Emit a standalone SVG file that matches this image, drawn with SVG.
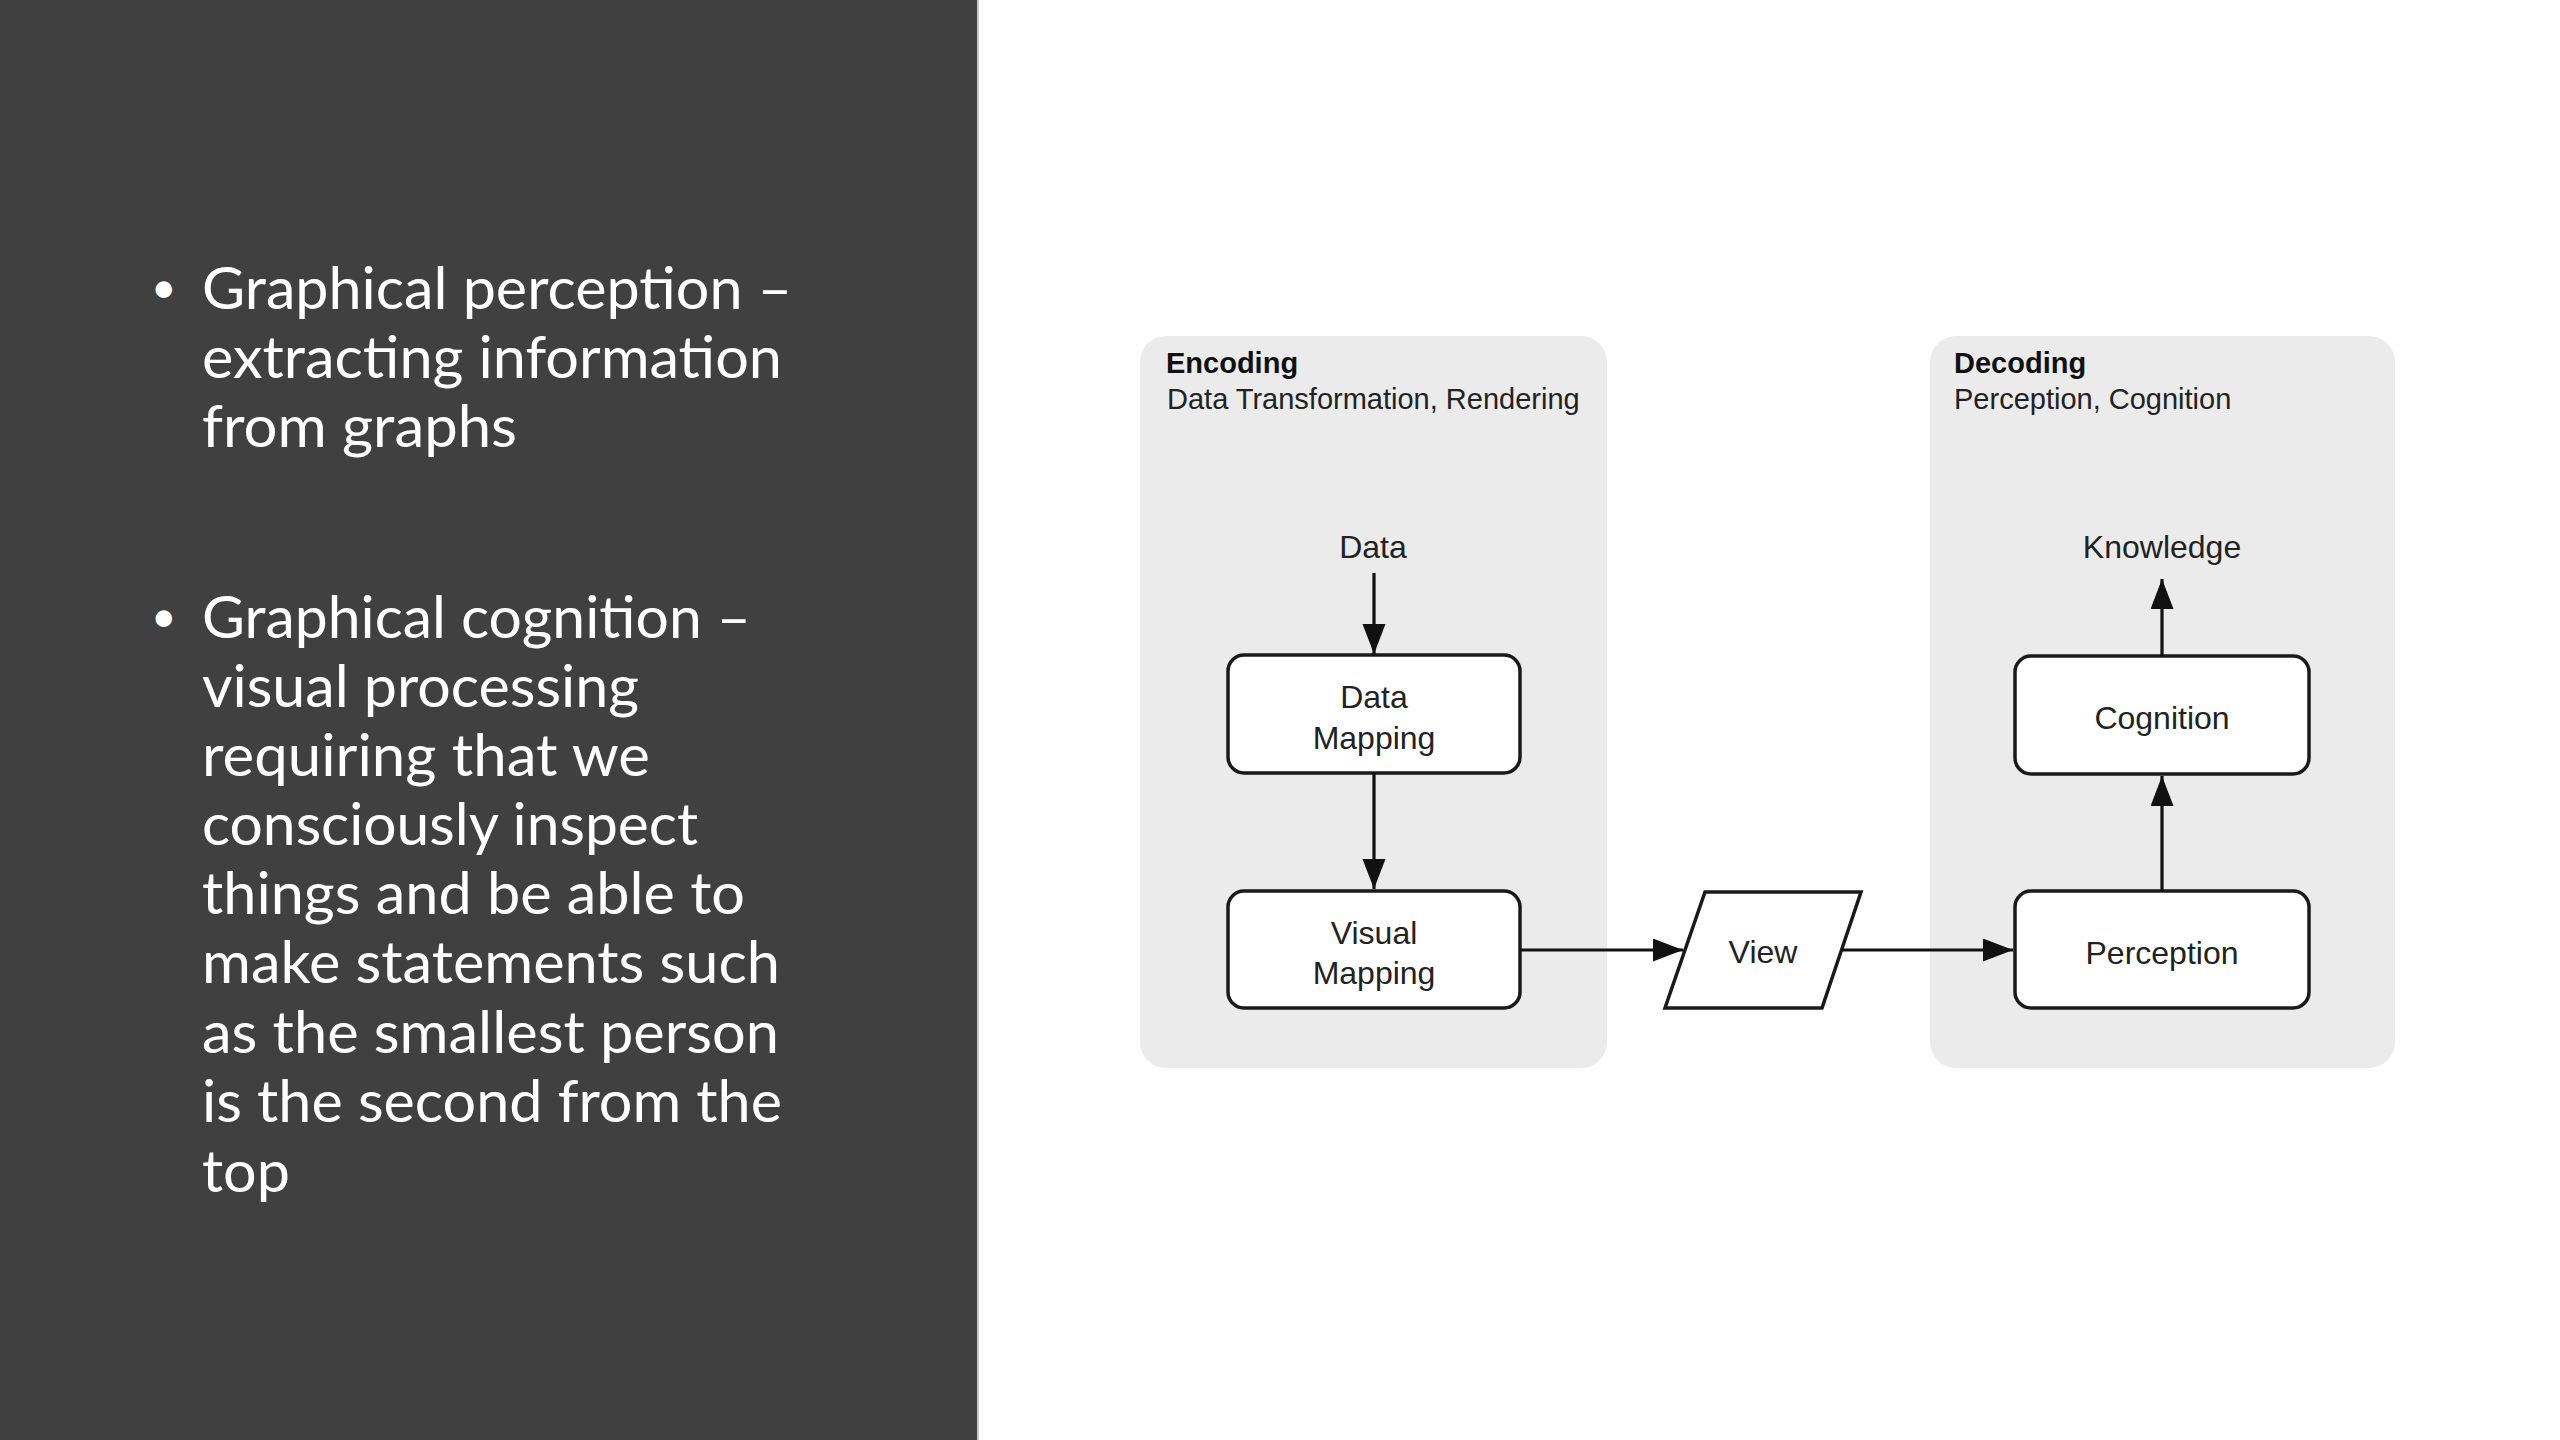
<svg xmlns="http://www.w3.org/2000/svg" width="2560" height="1440" viewBox="0 0 2560 1440">
  <defs>
    <marker id="arr" markerUnits="userSpaceOnUse" markerWidth="30" markerHeight="24" refX="30" refY="11.5" orient="auto">
      <path d="M0,0 L30,11.5 L0,23 z" fill="#111"/>
    </marker>
  </defs>
  <style>
    .bul { font-family: Lato, "Open Sans", "Liberation Sans", sans-serif; font-size: 59px; fill: #ffffff; }
    .dot { font-family: Lato, "Open Sans", "Liberation Sans", sans-serif; font-size: 44px; fill: #ffffff; }
    .panel { fill: #ebebeb; }
    .box { fill: #ffffff; stroke: #1a1a1a; stroke-width: 3.5; }
    .t { font-family: "Liberation Sans", Arial, sans-serif; font-size: 32px; fill: #222; text-anchor: middle; }
    .ttl { font-family: "Liberation Sans", Arial, sans-serif; font-size: 29px; font-weight: bold; fill: #111; }
    .sub { font-family: "Liberation Sans", Arial, sans-serif; font-size: 29px; fill: #222; }
    .con { fill: none; stroke: #111; stroke-width: 3.2; marker-end: url(#arr); }
  </style>
  <rect x="0" y="0" width="2560" height="1440" fill="#ffffff"/>
  <rect x="0" y="0" width="977" height="1440" fill="#404040"/>
  <line x1="978" y1="0" x2="978" y2="1440" stroke="#c8c8c8" stroke-width="2"/>

  <g id="bullets">
    <text class="dot" x="151" y="303">•</text>
    <text class="bul" x="202" y="309" textLength="590" lengthAdjust="spacingAndGlyphs">Graphical perception –</text>
    <text class="bul" x="202" y="378" textLength="580" lengthAdjust="spacingAndGlyphs">extracting information</text>
    <text class="bul" x="202" y="447" textLength="315" lengthAdjust="spacingAndGlyphs">from graphs</text>
    <text class="dot" x="151" y="632">•</text>
    <text class="bul" x="202" y="638" textLength="549" lengthAdjust="spacingAndGlyphs">Graphical cognition –</text>
    <text class="bul" x="202" y="707" textLength="437" lengthAdjust="spacingAndGlyphs">visual processing</text>
    <text class="bul" x="202" y="776" textLength="448" lengthAdjust="spacingAndGlyphs">requiring that we</text>
    <text class="bul" x="202" y="845" textLength="496" lengthAdjust="spacingAndGlyphs">consciously inspect</text>
    <text class="bul" x="202" y="914" textLength="543" lengthAdjust="spacingAndGlyphs">things and be able to</text>
    <text class="bul" x="202" y="983" textLength="578" lengthAdjust="spacingAndGlyphs">make statements such</text>
    <text class="bul" x="202" y="1053" textLength="577" lengthAdjust="spacingAndGlyphs">as the smallest person</text>
    <text class="bul" x="202" y="1122" textLength="580" lengthAdjust="spacingAndGlyphs">is the second from the</text>
    <text class="bul" x="202" y="1192" textLength="88" lengthAdjust="spacingAndGlyphs">top</text>
  </g>

  <g id="encoding">
    <rect class="panel" x="1140" y="336" width="467" height="732" rx="26"/>
    <text class="ttl" x="1166" y="373">Encoding</text>
    <text class="sub" x="1167" y="409">Data Transformation, Rendering</text>
  </g>
  <g id="decoding">
    <rect class="panel" x="1930" y="336" width="465" height="732" rx="26"/>
    <text class="ttl" x="1954" y="373">Decoding</text>
    <text class="sub" x="1954" y="409">Perception, Cognition</text>
  </g>

  <g id="data">
    <text class="t" x="1373" y="558">Data</text>
  </g>
  <g id="data-mapping">
    <rect class="box" x="1228" y="655" width="292" height="118" rx="16"/>
    <text class="t" x="1374" y="708">Data</text>
    <text class="t" x="1374" y="749">Mapping</text>
  </g>
  <g id="visual-mapping">
    <rect class="box" x="1228" y="891" width="292" height="117" rx="16"/>
    <text class="t" x="1374" y="944">Visual</text>
    <text class="t" x="1374" y="984">Mapping</text>
  </g>
  <g id="view">
    <polygon class="box" points="1705,892 1861,892 1822,1008 1665,1008"/>
    <text class="t" x="1763" y="963">View</text>
  </g>
  <g id="perception">
    <rect class="box" x="2015" y="891" width="294" height="117" rx="16"/>
    <text class="t" x="2162" y="964">Perception</text>
  </g>
  <g id="cognition">
    <rect class="box" x="2015" y="656" width="294" height="118" rx="16"/>
    <text class="t" x="2162" y="729">Cognition</text>
  </g>
  <g id="knowledge">
    <text class="t" x="2162" y="558">Knowledge</text>
  </g>

  <g id="connectors">
    <line class="con" x1="1374" y1="573" x2="1374" y2="654"/>
    <line class="con" x1="1374" y1="773" x2="1374" y2="889"/>
    <line class="con" x1="1520" y1="950" x2="1683" y2="950"/>
    <line class="con" x1="1842" y1="950" x2="2013" y2="950"/>
    <line class="con" x1="2162" y1="891" x2="2162" y2="776"/>
    <line class="con" x1="2162" y1="656" x2="2162" y2="579"/>
  </g>
</svg>
